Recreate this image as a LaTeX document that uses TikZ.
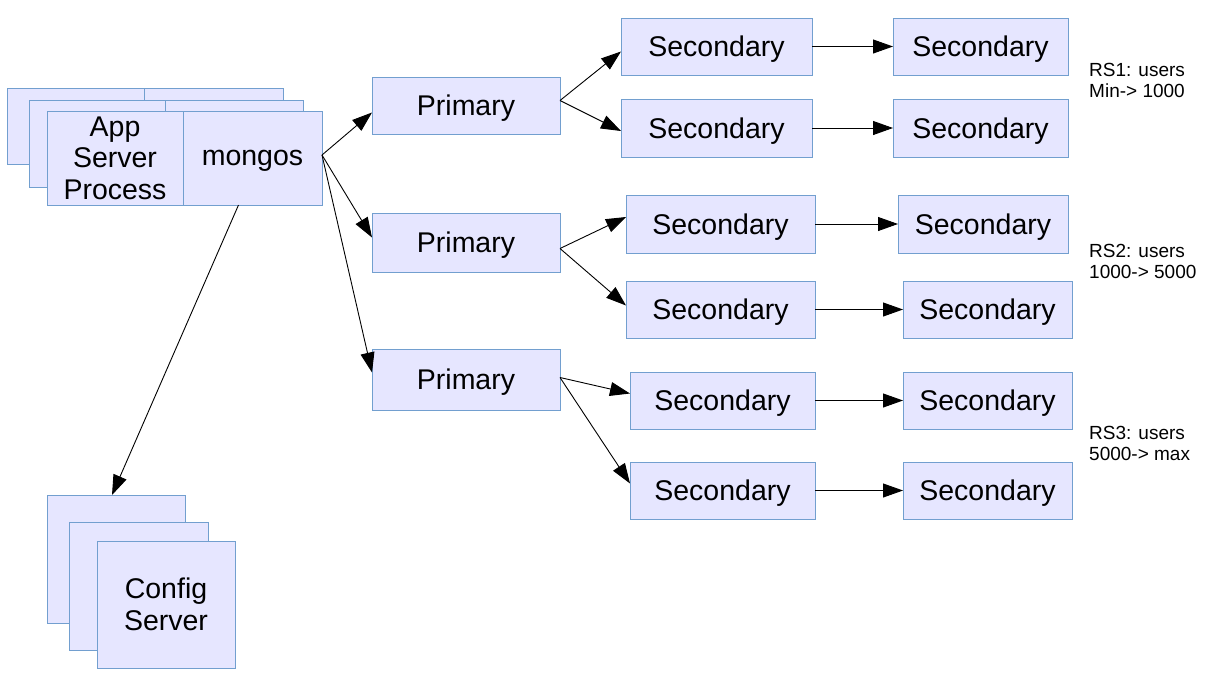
\documentclass[tikz,border=0pt]{standalone}
\usepackage{fontspec}
\setmainfont{Liberation Sans}
\usepackage{tikz}
\usetikzlibrary{arrows.meta,positioning,calc}
\definecolor{boxfill}{RGB}{230,230,255}
\definecolor{boxline}{RGB}{114,159,207}

\begin{document}
\begin{tikzpicture}[
    x=1pt,y=-1pt,
    box/.style={draw=boxline,fill=boxfill,line width=1pt,inner sep=0pt,outer sep=0pt,align=center,font=\fontsize{28.5}{31.5}\selectfont},
    onebox/.style={box,text depth=0pt},
    note/.style={anchor=west,align=left,inner sep=0pt,font=\fontsize{19}{21}\selectfont},
    link/.style={->,line width=0.9pt,black},
    >={Triangle[length=20pt,width=14pt]}
]
\useasboundingbox (0,0) rectangle (1210,699);

% app server / mongos stack
\node[box,minimum width=137pt,minimum height=76pt] (appB) at (75.5,126) {};
\node[box,minimum width=139pt,minimum height=76pt] (mgsB) at (213.5,126) {};
\node[box,minimum width=136pt,minimum height=87pt] (appM) at (97,143.5) {};
\node[box,minimum width=138pt,minimum height=87pt] (mgsM) at (234,143.5) {};
\node[box,minimum width=136pt,minimum height=94pt] (app) at (115,158) {App\\Server\\Process};
\node[onebox,minimum width=139pt,minimum height=94pt] (mongos) at (252.5,158) {mongos};

% config servers
\node[box,minimum width=138pt,minimum height=128pt] (cfgB) at (116,559) {};
\node[box,minimum width=139pt,minimum height=128pt] (cfgM) at (138.5,586) {};
\node[box,minimum width=138pt,minimum height=127pt] (cfg) at (166,604.5) {Config\\Server};

% primaries
\node[onebox,minimum width=188pt,minimum height=57pt] (p1) at (466,105.5) {Primary};
\node[onebox,minimum width=188pt,minimum height=59pt] (p2) at (466,242.5) {Primary};
\node[onebox,minimum width=188pt,minimum height=61pt] (p3) at (466,379.5) {Primary};

% secondaries, first column
\node[onebox,minimum width=191pt,minimum height=57pt] (s11) at (716.5,46.5) {Secondary};
\node[onebox,minimum width=191pt,minimum height=58pt] (s12) at (716.5,128) {Secondary};
\node[onebox,minimum width=189pt,minimum height=58pt] (s21) at (720.5,224) {Secondary};
\node[onebox,minimum width=189pt,minimum height=57pt] (s22) at (720.5,309.5) {Secondary};
\node[onebox,minimum width=185pt,minimum height=57pt] (s31) at (722.5,400.5) {Secondary};
\node[onebox,minimum width=185pt,minimum height=57pt] (s32) at (722.5,490.5) {Secondary};

% secondaries, second column
\node[onebox,minimum width=175pt,minimum height=57pt] (t11) at (980.5,46.5) {Secondary};
\node[onebox,minimum width=175pt,minimum height=58pt] (t12) at (980.5,128) {Secondary};
\node[onebox,minimum width=170pt,minimum height=58pt] (t21) at (983,224) {Secondary};
\node[onebox,minimum width=169pt,minimum height=57pt] (t22) at (987.5,309.5) {Secondary};
\node[onebox,minimum width=169pt,minimum height=57pt] (t31) at (987.5,400.5) {Secondary};
\node[onebox,minimum width=169pt,minimum height=57pt] (t32) at (987.5,490.5) {Secondary};

% replica set notes
\node[note] (rs1) at (1089,80.5) {RS1: users\\Min-> 1000};
\node[note] (rs2) at (1089,261.5) {RS2: users\\1000-> 5000};
\node[note] (rs3) at (1089,443.5) {RS3: users\\5000-> max};

% connectors
\draw[link] ([yshift=3pt]mongos.east) -- ([yshift=-7pt]p1.west);
\draw[link] ([yshift=3pt]mongos.east) -- ([yshift=5pt]p2.west);
\draw[link] ([yshift=3pt]mongos.east) -- ([yshift=7pt]p3.west);
\draw[link] ([xshift=-14pt]mongos.south) -- ([xshift=-4pt]cfgB.north);

\draw[link] ([yshift=5pt]p1.east) -- ([yshift=-5pt]s11.west);
\draw[link] ([yshift=5pt]p1.east) -- ([yshift=-3pt]s12.west);
\draw[link] ([yshift=-6pt]p2.east) -- ([yshift=7pt]s21.west);
\draw[link] ([yshift=-6pt]p2.east) -- ([yshift=4pt]s22.west);
\draw[link] ([yshift=2pt]p3.east) -- ([yshift=7pt]s31.west);
\draw[link] ([yshift=2pt]p3.east) -- ([yshift=7pt]s32.west);

\draw[link] (s11) -- (t11);
\draw[link] (s12) -- (t12);
\draw[link] (s21) -- (t21);
\draw[link] (s22) -- (t22);
\draw[link] (s31) -- (t31);
\draw[link] (s32) -- (t32);
\end{tikzpicture}
\end{document}
